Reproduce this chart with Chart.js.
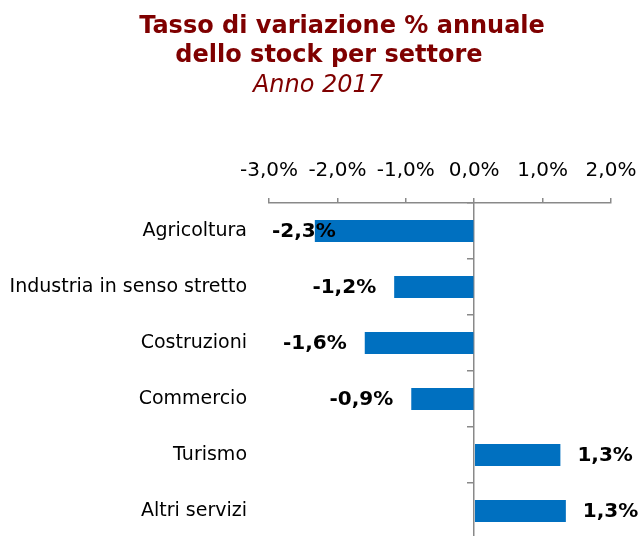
<!DOCTYPE html>
<html lang="it">
<head>
    <meta charset="UTF-8">
    <title>Tasso di variazione % annuale dello stock per settore</title>
    <script src="https://cdn.jsdelivr.net/npm/chart.js"></script>
    <style>
        html, body {
            margin: 0;
            padding: 0;
            background: #ffffff;
            overflow: hidden;
        }
        #wrap {
            width: 638px;
            height: 540px;
        }
    </style>
</head>
<body>
    <div id="wrap"><canvas id="stockChart" width="638" height="540"></canvas></div>
    <script>
        // Dati
        const settori = ['Agricoltura', 'Industria in senso stretto', 'Costruzioni', 'Commercio', 'Turismo', 'Altri servizi'];
        const variazioni = [-2.33, -1.17, -1.6, -0.92, 1.26, 1.34];
        const titleLines = ['Tasso di variazione % annuale', 'dello stock per settore', 'Anno 2017'];

        const FONT = "'DejaVu Sans', Verdana, sans-serif";
        const AXIS_GREY = '#898989';

        function fmt(v) {
            return v.toFixed(1).replace('.', ',') + '%';
        }

        // titolo su tre righe (le prime due in grassetto, la terza in corsivo)
        const titlePlugin = {
            id: 'titleLines',
            afterDraw(chart) {
                const ctx = chart.ctx;
                ctx.save();
                ctx.fillStyle = '#7f0000';
                ctx.textAlign = 'center';
                ctx.font = 'bold 24px ' + FONT;
                ctx.fillText(titleLines[0], 342, 33);
                ctx.fillText(titleLines[1], 329, 62);
                ctx.font = 'italic 24px ' + FONT;
                ctx.fillText(titleLines[2], 318, 92);
                ctx.restore();
            }
        };

        // etichette dei valori: fuori dalla barra, ma dentro l'area del grafico
        const valueLabels = {
            id: 'valueLabels',
            afterDatasetsDraw(chart) {
                const ctx = chart.ctx;
                const area = chart.chartArea;
                const meta = chart.getDatasetMeta(0);
                ctx.save();
                ctx.font = 'bold 20px ' + FONT;
                ctx.fillStyle = '#000000';
                ctx.textBaseline = 'middle';
                ctx.textAlign = 'left';
                meta.data.forEach((bar, i) => {
                    const v = variazioni[i];
                    const text = fmt(v);
                    const w = ctx.measureText(text).width;
                    let x;
                    if (v < 0) {
                        x = bar.x - 18 - w;
                        if (x < area.left + 3) x = area.left + 3;
                    } else {
                        x = bar.x + 17;
                    }
                    ctx.fillText(text, x, bar.y + 1);
                });
                ctx.restore();
            }
        };

        const ctx = document.getElementById('stockChart').getContext('2d');
        new Chart(ctx, {
            type: 'bar',
            data: {
                labels: settori,
                datasets: [{
                    data: variazioni,
                    backgroundColor: '#0070c0',
                    borderWidth: 0,
                    barPercentage: 0.39,
                    categoryPercentage: 1
                }]
            },
            options: {
                indexAxis: 'y',
                responsive: false,
                animation: false,
                layout: { padding: { top: 140, right: 27, bottom: 1, left: 0 } },
                plugins: {
                    legend: { display: false },
                    tooltip: { enabled: false }
                },
                scales: {
                    x: {
                        position: 'top',
                        min: -3,
                        max: 2,
                        ticks: {
                            stepSize: 1,
                            color: '#000000',
                            font: { family: FONT, size: 20 },
                            padding: 15,
                            callback: (v) => fmt(v)
                        },
                        grid: {
                            drawOnChartArea: false,
                            tickLength: 5,
                            color: AXIS_GREY,
                            lineWidth: 1.5
                        },
                        border: { color: AXIS_GREY, width: 1.5 },
                        afterFit(s) {
                            s.height = 63;
                            s.paddingLeft = 0;
                            s.paddingRight = 0;
                        }
                    },
                    y: {
                        position: 'left',
                        ticks: {
                            color: '#000000',
                            font: { family: FONT, size: 19 },
                            padding: 22
                        },
                        grid: { display: false, drawTicks: false },
                        border: { display: false },
                        afterFit(s) {
                            s.width = 269;
                            s.paddingTop = 0;
                            s.paddingBottom = 0;
                        }
                    },
                    // asse verticale sullo zero con i trattini tra le categorie
                    zero: {
                        type: 'category',
                        axis: 'y',
                        position: { x: 0 },
                        offset: true,
                        ticks: { display: false },
                        grid: {
                            offset: true,
                            drawOnChartArea: false,
                            tickLength: 6,
                            color: AXIS_GREY,
                            lineWidth: 1.5
                        },
                        border: { color: AXIS_GREY, width: 1.5 }
                    }
                }
            },
            plugins: [titlePlugin, valueLabels]
        });
    </script>
</body>
</html>
